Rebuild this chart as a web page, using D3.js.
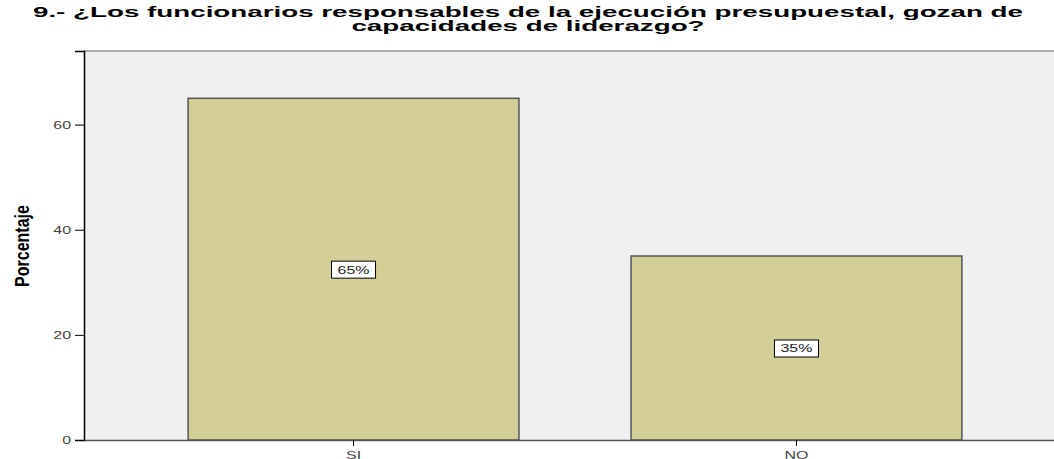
<!DOCTYPE html>
<html>
<head>
    <style>
        body { margin: 0; background: #fff; }
        .title { font-family: "Liberation Sans", Arial, sans-serif; font-weight: bold; font-size: 15px; fill: #000; }
        .ylab { font-family: "Liberation Sans", Arial, sans-serif; font-weight: bold; font-size: 16px; }
        .tick text { font-family: "Liberation Sans", Arial, sans-serif; font-size: 11px; fill: #444; }
        .vlab { font-family: "Liberation Sans", Arial, sans-serif; font-size: 11px; fill: #222; }
    </style>
    <script src="https://d3js.org/d3.v7.min.js"></script>
</head>
<body>
    <svg width="1054" height="459"></svg>
    <script>
        // data
        var categories = ["SI", "NO"];
        var values = [65, 35];
        var valueLabels = ["65%", "35%"];
        var yTicks = [0, 20, 40, 60];
        var titleLines = ["9.- ¿Los funcionarios responsables de la ejecución presupuestal, gozan de",
                          "capacidades de liderazgo?"];

        var svg = d3.select("svg");
        var plotLeft = 84, plotTop = 51, plotRight = 1066, plotBottom = 440;

        // the source image is stretched sideways, so widen the text the same way
        function stretch(sel, k) {
            sel.each(function () {
                var w = this.getComputedTextLength();
                d3.select(this).attr("textLength", w * k).attr("lengthAdjust", "spacingAndGlyphs");
            });
        }

        var x = d3.scaleBand().domain(categories).range([plotLeft, plotRight])
            .paddingInner(0.253).paddingOuter(0.235);
        var y = d3.scaleLinear().domain([0, 74]).range([plotBottom, plotTop]);

        // title
        svg.selectAll(".title").data(titleLines).enter().append("text")
            .attr("class", "title")
            .attr("x", 528)
            .attr("y", function (d, i) { return 17 + i * 14; })
            .attr("text-anchor", "middle")
            .text(function (d) { return d; })
            .call(stretch, 1.85);

        // plot background
        svg.append("rect").attr("x", plotLeft).attr("y", plotTop)
            .attr("width", plotRight - plotLeft).attr("height", plotBottom - plotTop)
            .attr("fill", "#f0f0f0");
        svg.append("line").attr("x1", plotLeft).attr("x2", plotRight)
            .attr("y1", plotTop).attr("y2", plotTop)
            .attr("stroke", "#999").attr("stroke-width", 1.5);

        // bars
        svg.selectAll(".bar").data(values).enter().append("rect")
            .attr("class", "bar")
            .attr("x", function (d, i) { return x(categories[i]); })
            .attr("y", function (d) { return y(d); })
            .attr("width", x.bandwidth())
            .attr("height", function (d) { return plotBottom - y(d); })
            .attr("fill", "#d3ce97")
            .attr("stroke", "#555")
            .attr("stroke-width", 1.5);

        // y axis
        var yAxis = svg.append("g").attr("transform", "translate(" + plotLeft + ",0)")
            .call(d3.axisLeft(y).tickValues(yTicks).tickSize(9).tickPadding(4));
        yAxis.select(".domain").attr("stroke", "#000").attr("stroke-width", 1.5);
        yAxis.selectAll(".tick line").attr("stroke", "#000");
        yAxis.selectAll(".tick text").call(stretch, 1.45);

        // x axis
        var xAxis = svg.append("g").attr("transform", "translate(0," + plotBottom + ")")
            .call(d3.axisBottom(x).tickSize(6).tickPadding(5).tickSizeOuter(0));
        xAxis.select(".domain").attr("stroke", "#555").attr("stroke-width", 1.5);
        xAxis.selectAll(".tick line").attr("stroke", "#000");
        xAxis.selectAll(".tick text").call(stretch, 1.45);

        svg.append("text").attr("class", "ylab")
            .attr("transform", "translate(29,246) rotate(-90) scale(1,1.3)")
            .attr("text-anchor", "middle")
            .text("Porcentaje");

        // value labels in white boxes at half bar height
        var lab = svg.selectAll(".vl").data(values).enter().append("g")
            .attr("transform", function (d, i) {
                return "translate(" + (x(categories[i]) + x.bandwidth() / 2) + "," + y(d / 2) + ")";
            });
        lab.append("rect").attr("x", -22).attr("y", -8).attr("width", 44).attr("height", 17)
            .attr("fill", "#fff").attr("stroke", "#000").attr("stroke-width", 1);
        lab.append("text").attr("class", "vlab")
            .attr("text-anchor", "middle").attr("dy", "0.4em")
            .text(function (d, i) { return valueLabels[i]; })
            .call(stretch, 1.45);
    </script>
</body>
</html>
